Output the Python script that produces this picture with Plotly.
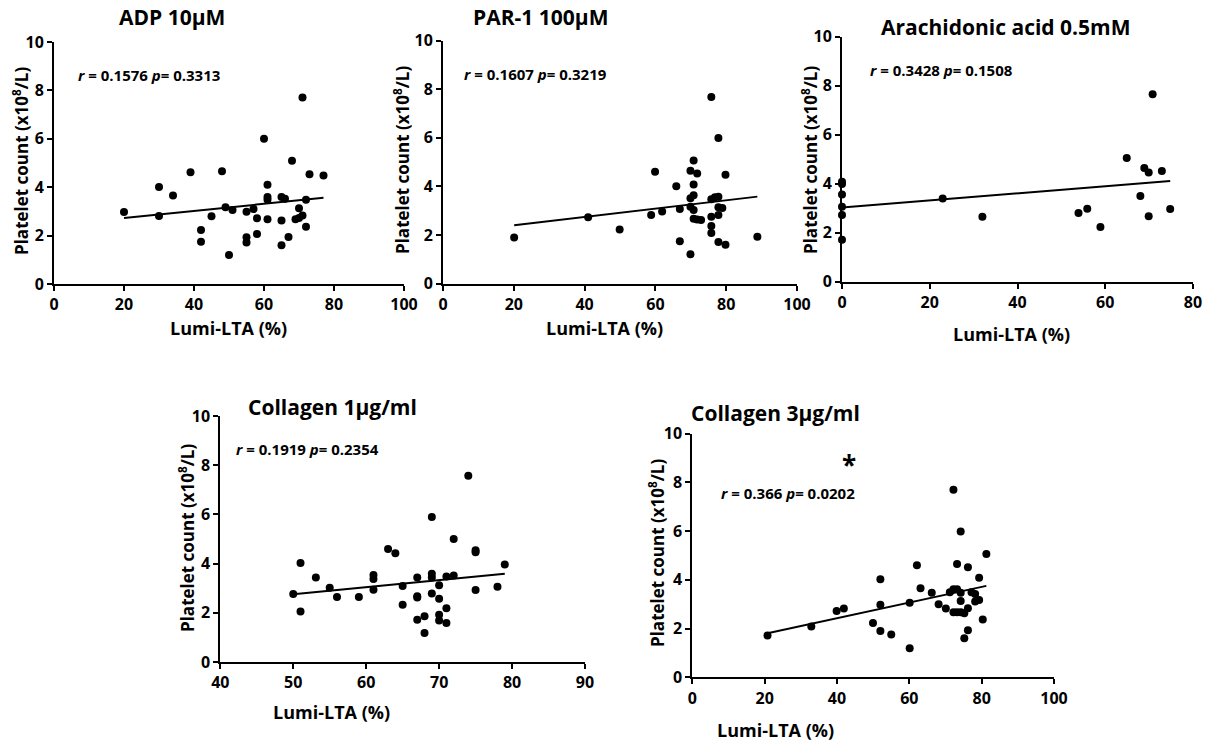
import plotly.graph_objects as go

W, H = 1211, 744

# ---------------- data ----------------
adp_x = [20, 30, 30, 34, 39, 42, 42, 45, 48, 49, 50, 51, 55, 55, 55, 57, 58, 58, 60, 61, 61, 61, 61,
         65, 66, 65, 65, 67, 68, 69, 70, 70, 71, 71, 72, 72, 73, 77]
adp_y = [2.98, 4.01, 2.81, 3.66, 4.62, 2.23, 1.75, 2.80, 4.66, 3.17, 1.20, 3.06, 2.99, 1.93, 1.71, 3.10,
         2.72, 2.07, 6.00, 4.10, 3.59, 3.48, 2.68, 3.59, 3.52, 2.62, 1.60, 1.94, 5.09, 2.68, 3.13, 2.73,
         2.83, 7.71, 3.48, 2.37, 4.54, 4.48]
adp_fit_x = [20, 77]
adp_fit_y = [2.73, 3.56]

par_x = [20.1, 41.0, 49.9, 58.8, 59.9, 61.9, 65.9, 66.9, 66.9, 69.9, 69.9, 69.9, 69.9, 70.8, 70.8, 70.8,
         70.8, 70.8, 71.8, 71.8, 72.9, 75.8, 75.8, 75.8, 75.8, 75.8, 76.8, 77.8, 77.8, 77.8, 77.8, 77.8,
         78.9, 79.8, 79.8, 88.8]
par_y = [1.90, 2.73, 2.23, 2.82, 4.60, 2.97, 4.01, 3.07, 1.75, 4.64, 3.51, 3.16, 1.21, 5.07, 4.08, 3.64,
         3.03, 2.67, 4.53, 2.64, 2.62, 7.68, 3.47, 2.75, 2.37, 2.08, 3.55, 5.99, 3.58, 3.14, 2.82, 1.71,
         3.11, 4.48, 1.60, 1.93]
par_fit_x = [20.1, 88.8]
par_fit_y = [2.40, 3.58]

aa_x = [0, 0, 0, 0, 0, 0, 22.95, 32.0, 53.9, 55.9, 58.9, 64.9, 68.0, 68.9, 69.9, 69.9, 70.8, 72.9, 74.8]
aa_y = [4.08, 3.99, 3.56, 3.06, 2.72, 1.71, 3.40, 2.65, 2.80, 2.98, 2.23, 5.05, 3.50, 4.64, 4.46, 2.67,
        7.65, 4.52, 2.97]
aa_fit_x = [0, 74.8]
aa_fit_y = [3.03, 4.11]

col1_x = [50, 51, 51, 53.1, 55, 56, 59, 61, 61, 61, 63, 64, 65, 65, 67, 67, 67, 67, 68, 68, 69, 69, 69,
          69, 70, 70, 70, 70, 71, 71, 71, 72, 72, 74, 75, 75, 75, 78, 79]
col1_y = [2.76, 4.02, 2.05, 3.43, 3.02, 2.64, 2.64, 3.54, 3.37, 2.94, 4.59, 4.42, 3.09, 2.33, 3.43, 2.67,
          2.62, 1.72, 1.86, 1.18, 5.89, 3.59, 3.44, 2.78, 3.12, 2.57, 1.92, 1.69, 3.48, 2.18, 1.59, 5.00,
          3.52, 7.57, 4.54, 4.46, 2.93, 3.06, 3.96]
col1_fit_x = [50, 79]
col1_fit_y = [2.75, 3.59]

col3_x = [20.8, 32.9, 39.9, 41.9, 49.95, 52.0, 52.0, 52.0, 55.0, 60.1, 60.1, 62.1, 63.1, 66.2, 68.1, 70.1,
          71.2, 72.2, 72.2, 72.2, 73.2, 73.2, 73.2, 74.2, 74.2, 74.2, 74.2, 75.2, 75.2, 76.2, 76.2, 76.2,
          77.2, 78.2, 78.2, 79.3, 79.3, 80.3, 81.3]
col3_y = [1.71, 2.08, 2.72, 2.82, 2.23, 4.02, 2.98, 1.90, 1.76, 3.06, 1.19, 4.60, 3.65, 3.47, 3.00, 2.82,
          3.49, 7.69, 3.61, 2.67, 4.65, 3.61, 2.67, 5.98, 3.47, 3.13, 2.67, 2.63, 1.60, 4.51, 2.83, 1.93,
          3.49, 3.42, 3.11, 4.08, 3.17, 2.37, 5.06]
col3_fit_x = [20.8, 81.3]
col3_fit_y = [1.81, 3.75]

titles = ["ADP 10µM", "PAR-1 100µM", "Arachidonic acid 0.5mM", "Collagen 1µg/ml", "Collagen 3µg/ml"]
stats = ["<i>r</i> = 0.1576 <i>p</i>= 0.3313", "<i>r</i> = 0.1607 <i>p</i>= 0.3219",
         "<i>r</i> = 0.3428 <i>p</i>= 0.1508", "<i>r</i> = 0.1919 <i>p</i>= 0.2354",
         "<i>r</i> = 0.366 <i>p</i>= 0.0202"]
x_ranges = [[0, 100], [0, 100], [0, 80], [40, 90], [0, 100]]
x_ticks = [[0, 20, 40, 60, 80, 100], [0, 20, 40, 60, 80, 100], [0, 20, 40, 60, 80],
           [40, 50, 60, 70, 80, 90], [0, 20, 40, 60, 80, 100]]
y_ticks = [0, 2, 4, 6, 8, 10]
x_title = "Lumi-LTA (%)"
y_title = "Platelet count (x10<sup>8</sup>/L)"
star_text = "*"

series = [(adp_x, adp_y, adp_fit_x, adp_fit_y), (par_x, par_y, par_fit_x, par_fit_y),
          (aa_x, aa_y, aa_fit_x, aa_fit_y), (col1_x, col1_y, col1_fit_x, col1_fit_y),
          (col3_x, col3_y, col3_fit_x, col3_fit_y)]

# ---------------- layout (pixel boxes) ----------------
boxes = [(54, 404, 42, 284), (443, 797, 40.5, 283.7), (842, 1193, 36.7, 281.7),
         (220.3, 585, 416, 662), (692.3, 1054, 433.5, 677.3)]
title_pos = [(172, 17), (540, 17), (1006, 27), (332, 407), (775, 413)]
stat_pos = [(76, 75), (462, 74), (868, 70), (234, 449), (719, 493)]
ytitle_pos = [(20, 161), (401, 160), (809, 160), (186, 538), (656, 553)]
xtitle_pos = [(228, 328), (604, 328), (1011, 334), (331, 712), (775, 730)]


def fx(p):
    return p / W


def fy(p):
    return 1 - p / H


FONT = "Open Sans"
fig = go.Figure()
annotations = []
for i, (xs, ys, fxs, fys) in enumerate(series):
    n = "" if i == 0 else str(i + 1)
    fig.add_trace(go.Scatter(x=xs, y=ys, mode="markers", xaxis="x" + n, yaxis="y" + n,
                             marker=dict(color="black", size=8), cliponaxis=False, showlegend=False))
    fig.add_trace(go.Scatter(x=fxs, y=fys, mode="lines", xaxis="x" + n, yaxis="y" + n,
                             line=dict(color="black", width=2), cliponaxis=False, showlegend=False))
    x0, x1, y0, y1 = boxes[i]
    common = dict(showline=True, linecolor="black", linewidth=2, ticks="outside", ticklen=5,
                  tickwidth=2, tickcolor="black", showgrid=False, zeroline=False, automargin=False,
                  tickfont=dict(family=FONT, size=16, color="black", weight="bold"))
    fig.update_layout(**{
        "xaxis" + n: dict(domain=[fx(x0), fx(x1)], range=x_ranges[i], tickvals=x_ticks[i],
                          anchor="y" + n, **common),
        "yaxis" + n: dict(domain=[fy(y1), fy(y0)], range=[0, 10], tickvals=y_ticks,
                          anchor="x" + n, **common),
    })
    annotations.append(dict(text=titles[i], x=fx(title_pos[i][0]), y=fy(title_pos[i][1]),
                            xref="paper", yref="paper", showarrow=False, xanchor="center",
                            yanchor="middle",
                            font=dict(family=FONT, size=21, color="black", weight="bold")))
    annotations.append(dict(text=stats[i], x=fx(stat_pos[i][0]), y=fy(stat_pos[i][1]),
                            xref="paper", yref="paper", showarrow=False, xanchor="left",
                            yanchor="middle",
                            font=dict(family=FONT, size=15, color="black", weight="bold")))
    annotations.append(dict(text=y_title, x=fx(ytitle_pos[i][0]), y=fy(ytitle_pos[i][1]),
                            xref="paper", yref="paper", showarrow=False, textangle=-90,
                            xanchor="center", yanchor="middle",
                            font=dict(family=FONT, size=17, color="black", weight="bold")))
    annotations.append(dict(text=x_title, x=fx(xtitle_pos[i][0]), y=fy(xtitle_pos[i][1]),
                            xref="paper", yref="paper", showarrow=False, xanchor="center",
                            yanchor="middle",
                            font=dict(family=FONT, size=18, color="black", weight="bold")))

annotations.append(dict(text=star_text, x=fx(849), y=fy(465), xref="paper", yref="paper",
                        showarrow=False, xanchor="center", yanchor="middle",
                        font=dict(family=FONT, size=26, color="black", weight="bold")))

fig.update_layout(width=W, height=H, margin=dict(l=0, r=0, t=0, b=0),
                  paper_bgcolor="white", plot_bgcolor="white", annotations=annotations,
                  font=dict(family=FONT, color="black"))

fig.write_html("out.html", config={"displayModeBar": False},
               post_script="document.body.style.margin='0';")
